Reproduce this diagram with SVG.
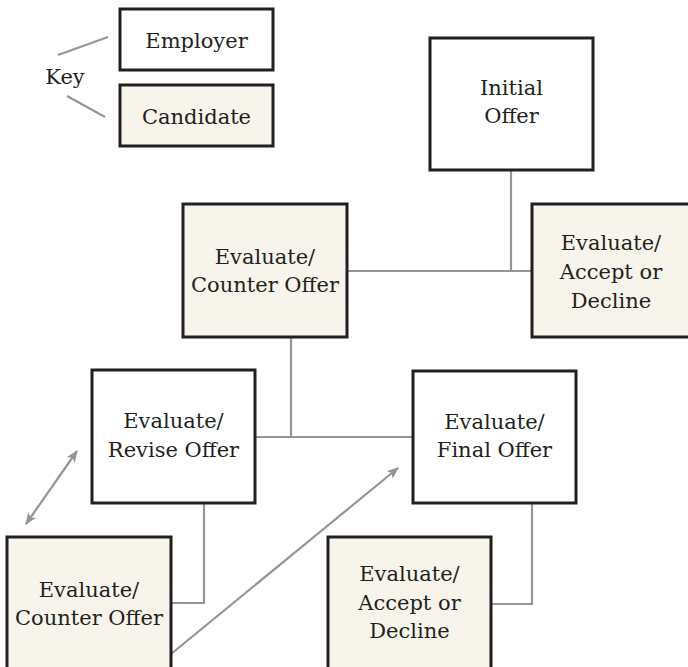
<svg xmlns="http://www.w3.org/2000/svg" width="688" height="667" viewBox="0 0 688 667">
<style>
.emp{fill:#ffffff;stroke:#231f20;stroke-width:3}
.cand{fill:#f7f4ec;stroke:#231f20;stroke-width:3}
.t{font-family:"DejaVu Serif","Liberation Serif",serif;font-size:21px;fill:#231f20;text-anchor:middle}
.c{fill:none;stroke:#939598;stroke-width:2.2}
</style>
<defs>
<marker id="ah" viewBox="0 0 12 10" refX="11" refY="5" markerWidth="12" markerHeight="10" markerUnits="userSpaceOnUse" orient="auto-start-reverse">
<path d="M0,0 L12,5 L0,10 L3,5 Z" fill="#939598"/>
</marker>
</defs>
<rect width="688" height="667" fill="#ffffff"/>
<g id="connectors">
<line class="c" x1="58" y1="55" x2="108" y2="37"/>
<line class="c" x1="67" y1="96" x2="105" y2="117"/>
<polyline class="c" points="511,170 511,271"/>
<line class="c" x1="347" y1="271" x2="532" y2="271"/>
<polyline class="c" points="291,337 291,437"/>
<line class="c" x1="255" y1="437" x2="413" y2="437"/>
<polyline class="c" points="204,503 204,603 171,603"/>
<polyline class="c" points="532,503 532,604 491,604"/>
<line class="c" x1="171" y1="654" x2="398" y2="468" marker-end="url(#ah)"/>
<line class="c" x1="26" y1="524" x2="77" y2="451" marker-start="url(#ah)" marker-end="url(#ah)"/>
</g>
<g id="key">
<text class="t" x="65" y="84">Key</text>
</g>
<g id="key-employer">
<rect class="emp" x="120" y="9" width="153" height="61"/>
<text class="t" x="196.5" y="48">Employer</text>
</g>
<g id="key-candidate">
<rect class="cand" x="120" y="85" width="153" height="61"/>
<text class="t" x="196.5" y="124">Candidate</text>
</g>
<g id="initial-offer">
<rect class="emp" x="430" y="38" width="163" height="132"/>
<text class="t" x="511.5" y="95">Initial</text>
<text class="t" x="511.5" y="123">Offer</text>
</g>
<g id="counter-offer-1">
<rect class="cand" x="183" y="204" width="164" height="133"/>
<text class="t" x="265" y="264">Evaluate/</text>
<text class="t" x="265" y="292">Counter Offer</text>
</g>
<g id="accept-decline-1">
<rect class="cand" x="532" y="204" width="164" height="133"/>
<text class="t" x="611" y="250">Evaluate/</text>
<text class="t" x="611" y="279">Accept or</text>
<text class="t" x="611" y="308">Decline</text>
</g>
<g id="revise-offer">
<rect class="emp" x="92" y="370" width="163" height="133"/>
<text class="t" x="173.5" y="428">Evaluate/</text>
<text class="t" x="173.5" y="457">Revise Offer</text>
</g>
<g id="final-offer">
<rect class="emp" x="413" y="371" width="163" height="132"/>
<text class="t" x="494.5" y="429">Evaluate/</text>
<text class="t" x="494.5" y="457">Final Offer</text>
</g>
<g id="counter-offer-2">
<rect class="cand" x="7" y="537" width="164" height="140"/>
<text class="t" x="89" y="597">Evaluate/</text>
<text class="t" x="89" y="625">Counter Offer</text>
</g>
<g id="accept-decline-2">
<rect class="cand" x="328" y="537" width="163" height="140"/>
<text class="t" x="409.5" y="581">Evaluate/</text>
<text class="t" x="409.5" y="610">Accept or</text>
<text class="t" x="409.5" y="638">Decline</text>
</g>
</svg>
